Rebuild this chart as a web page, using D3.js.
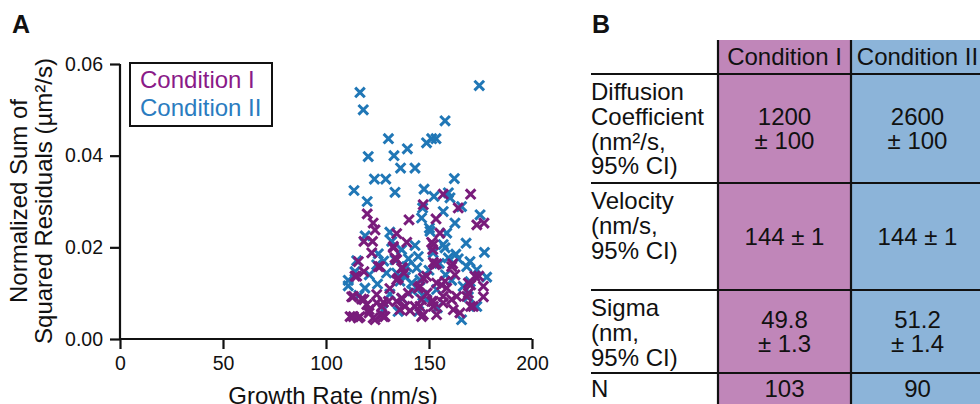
<!DOCTYPE html>
<html>
<head>
<meta charset="utf-8">
<script src="https://cdn.jsdelivr.net/npm/d3@7.9.0/dist/d3.min.js"></script>
<style>
  body { margin: 0; background: #fff; }
  svg { display: block; font-family: "Liberation Sans", Arial, sans-serif; }
</style>
</head>
<body>
<svg id="fig" width="980" height="404"></svg>
<script>
// growth rate (nm/s), normalized SSR (µm²/s)
const condI = [
  [156.9,0.0316],[170.2,0.0316],[147.2,0.0293],[164.2,0.0286],[120,0.0273],[140.3,0.0260],[153.4,0.0262],[122.9,0.0253],
  [173.2,0.0249],[176.7,0.0253],[123.8,0.0238],[155.3,0.0231],[134.3,0.0230],[118.4,0.0213],[122.6,0.0213],[139.2,0.0211],
  [151.3,0.0211],[132.7,0.0202],[122.2,0.0188],[151.8,0.0195],[115.7,0.0169],[126.2,0.0158],[134.3,0.0173],[137.2,0.0155],
  [137.9,0.0144],[152.1,0.0167],[153.7,0.0164],[161.5,0.0164],[114.1,0.0137],[118.4,0.0147],[134.3,0.0129],[148.8,0.0137],
  [162.6,0.0140],[174.2,0.0137],[145.6,0.0115],[153.7,0.0122],[157.8,0.0126],[158.6,0.0111],[170.2,0.0118],[176.4,0.0115],
  [112.5,0.0092],[117.3,0.0087],[119.8,0.0075],[124.6,0.0079],[127.8,0.0080],[134.3,0.0082],[138.3,0.0071],[146.4,0.0086],
  [152.1,0.0082],[156.9,0.0093],[161,0.0086],[168.3,0.0093],[176.4,0.0092],[111.7,0.0049],[115.7,0.0046],[120.9,0.0057],
  [122.9,0.0046],[127,0.0053],[135.9,0.0064],[140.8,0.0062],[145.6,0.0071],[146.4,0.0049],[153.7,0.0053],[165,0.0057],
  [170.2,0.0071],[152.1,0.0071],[113.3,0.0049],[123.8,0.0042],[128.6,0.0049],[125.4,0.0158],[136.7,0.0155],[135.1,0.0133],
  [114.9,0.0137],[124.6,0.0097],[118.4,0.0086],[113.3,0.0093],[130.3,0.0082],[136.7,0.0089],[127,0.0071],[120.9,0.0064],
  [116.5,0.0049],[127.8,0.0049],[132.7,0.0199],[133.5,0.0177],[152.1,0.0206],[152.9,0.0162],[161,0.0158],[147.2,0.0133],
  [156.1,0.0118],[144.8,0.0111],[169.1,0.0122],[172.3,0.0137],[169.1,0.0100],[163.4,0.0093],[151.3,0.0082],[156.9,0.0079],
  [143.2,0.0071],[147.2,0.0053],[161.8,0.0064],[171.5,0.0071],[140,0.0100],[131,0.0110],[149,0.0100]
];
const condII = [
  [116.5,0.0538],[118.1,0.0500],[174.4,0.0553],[157.8,0.0476],[130.3,0.0437],[148.8,0.0428],[151.3,0.0437],[153.4,0.0437],
  [139.5,0.0415],[120.5,0.0398],[133,0.0400],[136.2,0.0373],[143.2,0.0373],[123.5,0.0349],[129,0.0349],[162.3,0.0350],
  [113.6,0.0324],[133.5,0.0320],[147.6,0.0327],[120,0.0300],[152.4,0.0311],[159.4,0.0319],[160.2,0.0308],[165.8,0.0289],
  [146.9,0.0286],[156.9,0.0278],[174.8,0.0271],[146.4,0.0264],[162.6,0.0253],[150.2,0.0242],[150.5,0.0235],[158.6,0.0231],
  [131,0.0233],[119,0.0225],[131.9,0.0213],[156.9,0.0206],[157.8,0.0199],[168,0.0209],[176.9,0.0189],[136.7,0.0195],
  [143.2,0.0204],[144.8,0.0180],[125.4,0.0186],[114.9,0.0171],[133.5,0.0173],[159.4,0.0177],[164.2,0.0175],[169.9,0.0169],
  [168.3,0.0158],[114.1,0.0147],[124.6,0.0162],[139.2,0.0158],[144,0.0155],[173.2,0.0151],[178,0.0135],[110.8,0.0128],
  [110.8,0.0116],[129.4,0.0144],[135.9,0.0126],[141.6,0.0122],[145.6,0.0129],[118.9,0.0111],[134.3,0.0144],[166.6,0.0115],
  [169.1,0.0092],[127.8,0.0064],[165.8,0.0042],[148.8,0.0086],[173.2,0.0071],[153.7,0.0108],[138.5,0.0135],[142,0.0105],
  [150,0.0150],[155,0.0165],[147,0.0095],[161,0.0128],[131,0.0098],[125,0.0120],[137,0.0088],[170,0.0125],
  [154,0.0068],[145,0.0060],[121,0.0140],[163,0.0185],[152,0.0188],[128,0.0170],[140,0.0175],[116,0.0095],
  [158,0.0140],[135,0.0060]
];
const xTicks = [0, 50, 100, 150, 200];
const yTicks = [0, 0.02, 0.04, 0.06];
const seriesNames = ['Condition I', 'Condition II'];

// table B
const tableCols = ['Condition I', 'Condition II'];
const tableRows = [
  ['Diffusion', 'Coefficient', '(nm²/s,', '95% CI)'],
  ['Velocity', '(nm/s,', '95% CI)'],
  ['Sigma', '(nm,', '95% CI)'],
  ['N']
];
const tableCells = [
  [['1200', '± 100'], ['2600', '± 100']],
  [['144 ± 1'], ['144 ± 1']],
  [['49.8', '± 1.3'], ['51.2', '± 1.4']],
  [['103'], ['90']]
];

const markColors = ['#791c7b', '#2077b6'];
const legendColors = ['#8a1a88', '#2a7cc0'];
const cellColors = ['#c086b9', '#8cb4d9'];
const ink = '#111';

const svg = d3.select('#fig');

// ---------- panel A ----------
const x = d3.scaleLinear().domain([0, 200]).range([120, 532]);
const y = d3.scaleLinear().domain([0, 0.06]).range([339, 64]);

svg.append('text').attr('x', 12).attr('y', 33)
  .attr('font-size', 25).attr('font-weight', 'bold').attr('fill', ink).text('A');

const xAxis = svg.append('g').attr('transform', `translate(0,${y(0)})`)
  .call(d3.axisBottom(x).tickValues(xTicks).tickSize(10).tickPadding(7).tickFormat(d3.format('d')));
const yAxis = svg.append('g').attr('transform', `translate(${x(0)},0)`)
  .call(d3.axisLeft(y).tickValues(yTicks).tickSize(10).tickPadding(7).tickFormat(d3.format('.2f')));

[xAxis, yAxis].forEach(g => {
  g.select('.domain').attr('stroke', ink).attr('stroke-width', 2.2);
  g.selectAll('.tick line').attr('stroke', ink).attr('stroke-width', 2.2);
  g.selectAll('.tick text').attr('font-size', 19.5).attr('fill', ink)
    .attr('font-family', '"Liberation Sans", Arial, sans-serif');
});
xAxis.select('.domain').attr('d', `M${x(0)},0H${x(200)}`);
yAxis.select('.domain').attr('d', `M0,${y(0.06)}V${y(0)}`);

svg.append('text').attr('x', 333).attr('y', 404).attr('text-anchor', 'middle')
  .attr('font-size', 24).attr('fill', ink).text('Growth Rate (nm/s)');

const yTitle = svg.append('text').attr('transform', 'translate(0,201) rotate(-90)')
  .attr('text-anchor', 'middle').attr('font-size', 24).attr('fill', ink);
yTitle.append('tspan').attr('x', 0).attr('y', 27).text('Normalized Sum of');
yTitle.append('tspan').attr('x', 0).attr('y', 51.5).text('Squared Residuals (µm²/s)');

// blue drawn first, purple on top (lower cloud reads purple in the reference)
const cross = d3.symbol().type(d3.symbolX).size(62);
[[condII, 1], [condI, 0]].forEach(([pts, i]) => {
  svg.append('g').selectAll('path').data(pts).join('path')
    .attr('transform', d => `translate(${x(d[0])},${y(d[1])})`)
    .attr('d', cross)
    .attr('fill', 'none')
    .attr('stroke', markColors[i])
    .attr('stroke-width', 3);
});

// legend
svg.append('rect').attr('x', 130).attr('y', 63).attr('width', 142).attr('height', 63)
  .attr('fill', '#fff').attr('stroke', ink).attr('stroke-width', 2);
seriesNames.forEach((name, i) => {
  svg.append('text').attr('x', 140).attr('y', 88 + i * 28)
    .attr('font-size', 24).attr('fill', legendColors[i]).text(name);
});

// ---------- panel B ----------
svg.append('text').attr('x', 592).attr('y', 33)
  .attr('font-size', 25).attr('font-weight', 'bold').attr('fill', ink).text('B');

const colEdges = [718, 851, 984];
const rowEdges = [74, 183, 290, 373, 430];
const tableTop = 40;

tableCols.forEach((c, i) => {
  svg.append('rect').attr('x', colEdges[i]).attr('y', tableTop)
    .attr('width', colEdges[i + 1] - colEdges[i]).attr('height', 404 - tableTop)
    .attr('fill', cellColors[i]);
  svg.append('text').attr('x', (colEdges[i] + colEdges[i + 1]) / 2).attr('y', 65)
    .attr('text-anchor', 'middle').attr('font-size', 24).attr('fill', ink).text(c);
});

const lh = 24.8;
tableRows.forEach((lines, r) => {
  const top = rowEdges[r];
  lines.forEach((t, k) => {
    svg.append('text').attr('x', 591).attr('y', (r === 3 ? 397 : top + 26) + k * lh)
      .attr('font-size', 24).attr('fill', ink).text(t);
  });
  tableCells[r].forEach((cell, c) => {
    const cx = (colEdges[c] + colEdges[c + 1]) / 2;
    const mid = r === 3 ? 388.5 : (top + rowEdges[r + 1]) / 2;
    cell.forEach((t, k) => {
      svg.append('text').attr('x', cx)
        .attr('y', mid + 8.5 + (k - (cell.length - 1) / 2) * lh)
        .attr('text-anchor', 'middle').attr('font-size', 24).attr('fill', ink).text(t);
    });
  });
});

rowEdges.slice(0, 4).forEach(ry => {
  svg.append('line').attr('x1', 591).attr('x2', 980).attr('y1', ry).attr('y2', ry)
    .attr('stroke', ink).attr('stroke-width', 2.2);
});
colEdges.slice(0, 2).forEach(cx => {
  svg.append('line').attr('x1', cx).attr('x2', cx).attr('y1', tableTop).attr('y2', 404)
    .attr('stroke', ink).attr('stroke-width', 2.2);
});
</script>
</body>
</html>
